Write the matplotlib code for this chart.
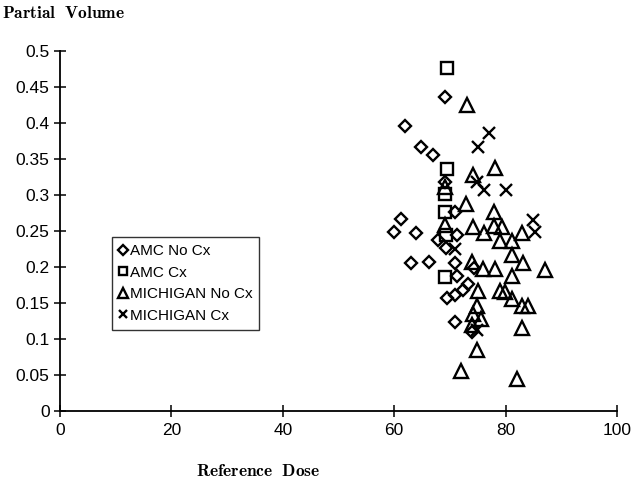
import matplotlib
matplotlib.use("Agg")
import matplotlib.pyplot as plt
from matplotlib.ticker import FixedLocator, FixedFormatter

# ---- data ----
amc_nocx_x = [69.1, 61.9, 64.9, 67.0, 69.1, 61.2, 59.9, 64.0, 70.9, 71.2, 67.9, 69.3,
              63.1, 66.2, 70.9, 74.3, 71.2, 73.3, 72.4, 70.9, 69.4, 70.9, 73.9]
amc_nocx_y = [0.436, 0.396, 0.366, 0.356, 0.318, 0.267, 0.248, 0.247, 0.277, 0.245, 0.237, 0.227,
              0.206, 0.207, 0.205, 0.198, 0.188, 0.177, 0.168, 0.161, 0.157, 0.124, 0.110]

amc_cx_x = [69.4, 69.4, 69.2, 69.2, 69.3, 69.1]
amc_cx_y = [0.476, 0.336, 0.302, 0.277, 0.245, 0.186]

mich_nocx_x = [73.0, 78.1, 74.2, 69.2, 72.9, 77.9, 69.2, 74.1, 76.1, 78.0, 79.3, 83.0,
               79.0, 81.1, 81.1, 83.2, 87.1, 76.0, 78.1, 73.9, 81.1, 75.1, 79.0, 79.9,
               81.1, 83.0, 84.1, 74.9, 74.2, 75.6, 73.9, 82.9, 74.8, 72.0, 82.0]
mich_nocx_y = [0.425, 0.337, 0.328, 0.311, 0.287, 0.276, 0.258, 0.256, 0.247, 0.257, 0.256, 0.247,
               0.236, 0.236, 0.216, 0.206, 0.196, 0.197, 0.197, 0.207, 0.187, 0.166, 0.167, 0.165,
               0.156, 0.146, 0.146, 0.146, 0.135, 0.128, 0.120, 0.115, 0.085, 0.055, 0.044]

mich_cx_x = [77.1, 75.1, 74.8, 76.2, 80.1, 85.0, 85.3, 71.0, 74.8]
mich_cx_y = [0.386, 0.366, 0.318, 0.307, 0.307, 0.265, 0.248, 0.225, 0.112]

series_labels = ["AMC No Cx", "AMC Cx", "MICHIGAN No Cx", "MICHIGAN Cx"]
x_ticks = [0, 20, 40, 60, 80, 100]
y_ticks = [0, 0.05, 0.1, 0.15, 0.2, 0.25, 0.3, 0.35, 0.4, 0.45, 0.5]
y_tick_labels = ["0", "0.05", "0.1", "0.15", "0.2", "0.25", "0.3", "0.35", "0.4", "0.45", "0.5"]

# ---- figure ----
plt.rcParams['font.family'] = ['Liberation Sans', 'DejaVu Sans']
plt.rcParams['mathtext.fontset'] = 'cm'
W, H = 634, 487
fig = plt.figure(figsize=(W / 100, H / 100), dpi=100)
ax = fig.add_axes([60 / W, (H - 411) / H, (617 - 60) / W, (411 - 51) / H])

mew = 1.7
kw = dict(linestyle='none', markerfacecolor='none', markeredgecolor='black', markeredgewidth=mew)
ax.plot(amc_nocx_x, amc_nocx_y, marker='D', markersize=6.6, label=series_labels[0], **kw)
ax.plot(amc_cx_x, amc_cx_y, marker='s', markersize=9, label=series_labels[1], **kw)
ax.plot(mich_nocx_x, mich_nocx_y, marker='^', markersize=9.5, label=series_labels[2], **kw)
ax.plot(mich_cx_x, mich_cx_y, marker='x', markersize=9, linestyle='none', color='black',
        markeredgewidth=mew, label=series_labels[3])

ax.set_xlim(0, 100)
ax.set_ylim(0, 0.5)
ax.xaxis.set_major_locator(FixedLocator(x_ticks))
ax.yaxis.set_major_locator(FixedLocator(y_ticks))
ax.yaxis.set_major_formatter(FixedFormatter(y_tick_labels))
for s in ['top', 'right']:
    ax.spines[s].set_visible(False)
for s in ['left', 'bottom']:
    ax.spines[s].set_linewidth(1.3)
    ax.spines[s].set_color('black')
ax.tick_params(direction='inout', length=9, width=1.1, labelsize=12.5, colors='black')
ax.tick_params(axis='y', pad=3)
ax.tick_params(axis='x', pad=4)

leg = ax.legend(loc='upper left', bbox_to_anchor=(112 / W, (H - 237) / H),
                bbox_transform=fig.transFigure, borderaxespad=0, frameon=True,
                fancybox=False, edgecolor='black', fontsize=11, handlelength=0.6,
                handletextpad=0.1, labelspacing=0.5, borderpad=0.45, markerscale=0.7)
leg.get_frame().set_linewidth(1.0)

fig.text(2 / W, (H - 13) / H, r"$\mathbf{Partial\ \ Volume}$",
         fontsize=12.5, ha='left', va='center')
fig.text(258 / W, (H - 471) / H, r"$\mathbf{Reference\ \ Dose}$",
         fontsize=12.5, ha='center', va='center')

fig.savefig("out.png", dpi=100)
